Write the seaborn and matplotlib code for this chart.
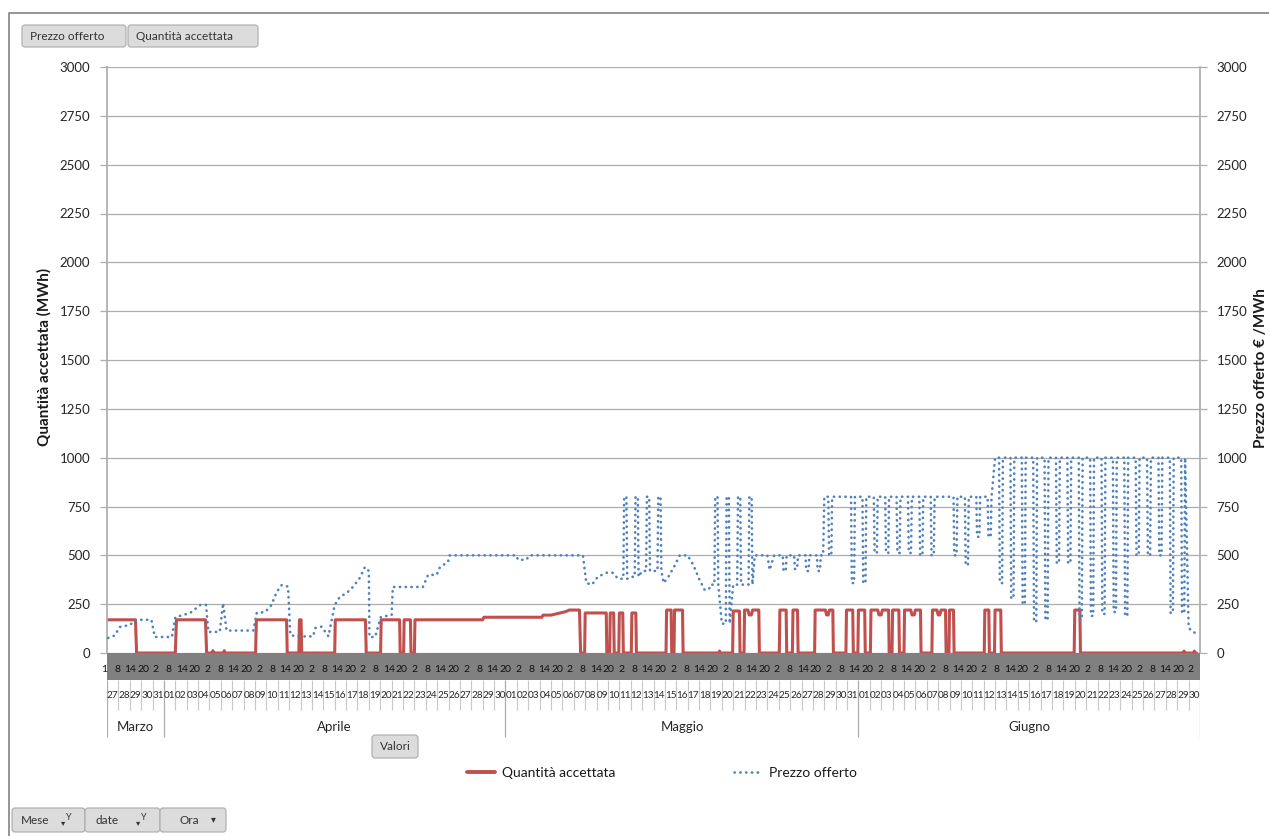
import numpy as np
import pandas as pd
import matplotlib
matplotlib.use("Agg")
import matplotlib.pyplot as plt
import seaborn as sns
from matplotlib import font_manager
from matplotlib.patches import FancyBboxPatch
from matplotlib.lines import Line2D

# ---------------- categories ----------------
months = ["Marzo", "Aprile", "Maggio", "Giugno"]
month_first_day = [27, 1, 1, 1]
month_last_day = [31, 30, 31, 30]
hour_labels = ["1", "8", "14", "20"] + ["2", "8", "14", "20"] * 20 + ["2"]
y_ticks = [0, 250, 500, 750, 1000, 1250, 1500, 1750, 2000, 2250, 2500, 2750, 3000]

# ---------------- Quantità accettata (MWh) : (giorno dal 27/03, valore) ----------------
qty_mar_apr = [(0, 170), (2.5, 170), (2.6, 0), (6.0, 0), (6.1, 170), (8.65, 170), (8.75, 0),
               (9.25, 0), (9.3, 12), (9.35, 0), (10.25, 0), (10.3, 12), (10.35, 0),
               (13.05, 0), (13.12, 170), (15.77, 170), (15.83, 0), (16.85, 0), (16.9, 170),
               (17.05, 170), (17.1, 0), (20.0, 0), (20.05, 170), (22.7, 170), (22.77, 0),
               (24.03, 0), (24.08, 170), (25.7, 170), (25.75, 0), (26.05, 0), (26.1, 170),
               (26.65, 170), (26.7, 0), (27.0, 0), (27.05, 170), (33.0, 170), (33.1, 183)]
qty_mag = [(38.2, 183), (38.3, 194), (39.0, 194), (39.8, 205), (40.3, 212), (40.6, 220),
           (41.5, 220), (41.6, 0), (41.95, 0), (42.0, 205), (43.85, 205), (43.9, 0),
           (44.15, 0), (44.2, 205), (44.5, 205), (44.55, 0), (44.95, 0), (45.0, 205),
           (45.3, 205), (45.35, 0), (46.05, 0), (46.1, 205), (46.45, 205), (46.5, 0),
           (49.1, 0), (49.15, 220), (49.55, 220), (49.6, 0), (49.8, 0), (49.85, 220),
           (50.55, 220), (50.6, 0), (53.75, 0), (53.8, 10), (53.85, 0), (54.95, 0),
           (55.0, 215), (55.55, 215), (55.6, 0), (55.95, 0), (56.0, 220), (56.3, 220),
           (56.4, 195), (56.6, 195), (56.7, 220), (57.25, 220), (57.3, 0), (59.05, 0),
           (59.1, 220), (59.65, 220), (59.7, 0), (60.2, 0), (60.25, 220), (60.65, 220),
           (60.7, 0), (62.15, 0), (62.2, 220), (63.1, 220), (63.2, 195), (63.35, 195),
           (63.45, 220), (63.75, 220), (63.8, 0), (64.9, 0), (64.95, 220), (65.5, 220),
           (65.55, 0)]
qty_giu = [(65.95, 0), (66.0, 220), (66.55, 220), (66.6, 0), (67.05, 0), (67.1, 220),
           (67.7, 220), (67.8, 195), (68.0, 195), (68.1, 220), (68.65, 220), (68.7, 0),
           (68.95, 0), (69.0, 220), (69.55, 220), (69.6, 0), (70.0, 0), (70.05, 220),
           (70.6, 220), (70.7, 195), (70.9, 195), (71.0, 220), (71.45, 220), (71.5, 0),
           (72.45, 0), (72.5, 220), (72.9, 220), (73.0, 195), (73.15, 195), (73.25, 220),
           (73.65, 220), (73.7, 0), (73.95, 0), (74.0, 220), (74.35, 220), (74.4, 0),
           (77.05, 0), (77.1, 220), (77.45, 220), (77.5, 0), (77.95, 0), (78.0, 220),
           (78.5, 220), (78.55, 0), (84.95, 0), (85.0, 220), (85.45, 220), (85.5, 0),
           (94.55, 0), (94.6, 10), (94.65, 0), (95.45, 0), (95.5, 10), (95.55, 0), (95.7, 0)]

# ---------------- Prezzo offerto (€/MWh) ----------------
price_mar_apr = [(0.1, 77), (0.7, 90), (1.1, 133), (2.0, 143), (2.55, 170), (3.9, 170),
                 (4.2, 82), (5.7, 82), (6.0, 183), (7.3, 205), (8.2, 246), (8.7, 246),
                 (8.9, 108), (9.9, 108), (10.2, 255), (10.5, 115), (12.85, 115), (13.15, 205),
                 (13.9, 210), (14.45, 246), (14.9, 312), (15.35, 348), (15.9, 340), (16.1, 92),
                 (16.65, 85), (18.1, 85), (18.3, 128), (18.85, 135), (19.45, 85), (20.0, 246),
                 (20.45, 287), (21.05, 307), (21.6, 338), (22.2, 384), (22.65, 440), (23.0, 420),
                 (23.05, 82), (23.55, 82), (24.05, 184), (25.0, 195), (25.1, 338), (27.75, 338),
                 (28.2, 400), (28.95, 400), (29.25, 440), (29.95, 466), (30.1, 500), (35.95, 500),
                 (36.1, 477), (36.8, 477), (37.15, 500), (41.8, 500)]
price_mag_a = [(42.1, 358), (42.6, 350), (43.1, 390), (43.9, 411), (44.4, 411), (44.9, 380)]
osc1_days, osc1_base, osc1_peak = [45, 46, 47, 48], [380, 390, 420, 420], [800, 800, 800, 800]
price_mag_b = [(48.9, 358), (49.3, 390), (49.8, 440), (50.3, 500), (51.0, 500), (51.5, 450),
               (52.0, 380), (52.5, 322), (52.9, 330)]
osc2_days, osc2_base, osc2_peak = [53, 54, 55, 56], [350, 150, 350, 350], [800, 800, 800, 800]
price_mag_c = [(56.9, 500), (58.0, 500), (58.2, 425), (58.6, 500)]
osc3_days, osc3_base, osc3_peak = [59, 60, 61, 62], [500, 500, 500, 500], [420, 430, 420, 420]
price_mag_d = [(62.9, 500)]
osc4_days = list(range(63, 78))
osc4_base = [800] * 15
osc4_peak = [500, 800, 358, 358, 512, 512, 512, 512, 500, 500, 800, 500, 450, 595, 595]
osc5_days = list(range(78, 95))
osc5_base = [1000] * 17
osc5_peak = [358, 280, 250, 160, 170, 460, 460, 170, 190, 200, 210, 190, 500, 500, 500, 205, 205]
price_tail = [(95.0, 130), (95.3, 110), (95.7, 100)]


def osc_path(days, base, peak):
    pts = []
    for d, b, p in zip(days, base, peak):
        pts += [(d, b), (d + 0.35, b), (d + 0.42, p), (d + 0.62, p), (d + 0.69, b)]
    return pts


qty_pts = qty_mar_apr + qty_mag + qty_giu
price_pts = (price_mar_apr + price_mag_a + osc_path(osc1_days, osc1_base, osc1_peak)
             + price_mag_b + osc_path(osc2_days, osc2_base, osc2_peak)
             + price_mag_c + osc_path(osc3_days, osc3_base, osc3_peak)
             + price_mag_d + osc_path(osc4_days, osc4_base, osc4_peak)
             + osc_path(osc5_days, osc5_base, osc5_peak) + price_tail)
df_q = pd.DataFrame(qty_pts, columns=["giorno", "valore"])
df_p = pd.DataFrame(price_pts, columns=["giorno", "valore"])

# ---------------- figure ----------------
sns.set_theme(style="white")
plt.rcParams["font.family"] = ["Lato", "DejaVu Sans"]

installed = {f.name for f in font_manager.fontManager.ttflist}
if "Liberation Sans Narrow" in installed:
    NARROW = ["Liberation Sans Narrow", "DejaVu Sans"]
    day_fs, hour_fs = 8.8, 8.5
else:
    NARROW = ["Lato", "DejaVu Sans"]
    day_fs, hour_fs = 7.2, 7.5

W, H = 1269, 836
fig = plt.figure(figsize=(W / 100, H / 100), dpi=100)
fig.patch.set_facecolor("white")


def fx(px):
    return px / W


def fy(py):
    return 1 - py / H


X0, X1, Y0, Y1 = 107, 1200, 653, 67
n_days = sum(l - f + 1 for f, l in zip(month_first_day, month_last_day))

RED = "#C0504D"
BLUE = "#4F81BD"
GRID = "#ADADAD"
TXT = "#262626"

ax = fig.add_axes([fx(X0), fy(Y0), fx(X1) - fx(X0), fy(Y1) - fy(Y0)])
sns.lineplot(data=df_q, x="giorno", y="valore", sort=False, estimator=None,
             color=RED, linewidth=2.2, ax=ax)
ax.set_xlim(0, n_days)
ax.set_ylim(0, 3000)
ax.set_yticks(y_ticks)
ax.set_yticklabels([str(v) for v in y_ticks])
ax.set_xticks([])
ax.set_xlabel("")
ax.set_ylabel("")
ax.yaxis.grid(True, color=GRID, lw=0.9)
ax.set_axisbelow(True)
ax.tick_params(axis="y", length=5, width=0.9, color=GRID, labelsize=9.5,
               labelcolor=TXT, pad=7, left=True)
for s in ["top", "bottom", "right"]:
    ax.spines[s].set_visible(False)
ax.spines["left"].set_color(GRID)
ax.patch.set_alpha(0)

ax2 = ax.twinx()
sns.lineplot(data=df_p, x="giorno", y="valore", sort=False, estimator=None,
             color=BLUE, linewidth=1.9, ax=ax2)
pl = ax2.get_lines()[-1]
pl.set_linestyle((0, (0.1, 2.1)))
pl.set_dash_capstyle("round")
ax2.set_xlim(0, n_days)
ax2.set_ylim(0, 3000)
ax2.set_yticks(y_ticks)
ax2.set_yticklabels([str(v) for v in y_ticks])
ax2.set_xticks([])
ax2.set_xlabel("")
ax2.set_ylabel("")
ax2.tick_params(axis="y", length=5, width=0.9, color=GRID, labelsize=9.5,
                labelcolor=TXT, pad=7, right=True)
for s in ["top", "bottom", "left"]:
    ax2.spines[s].set_visible(False)
ax2.spines["right"].set_color(GRID)

# ---------------- category axis (hours / days / months) ----------------
axc = fig.add_axes([fx(X0), fy(740), fx(X1) - fx(X0), fy(653) - fy(740)])
axc.set_xlim(0, n_days)
axc.set_ylim(87, 0)
axc.axis("off")
axc.axhspan(0, 27, color="#808080", lw=0)

day_labels = []
month_bounds = [0]
for f, l in zip(month_first_day, month_last_day):
    day_labels += [f"{d:02d}" for d in range(f, l + 1)]
    month_bounds.append(month_bounds[-1] + (l - f + 1))

inner = [i for i in range(1, n_days) if i not in month_bounds]
axc.vlines(inner, 27, 57, color="#C8C8C8", lw=0.8)
axc.vlines(month_bounds, 27, 84, color=GRID, lw=0.9)

hour_pos = np.linspace(-0.25, 95.2, len(hour_labels))
for x, lab in zip(hour_pos, hour_labels):
    axc.text(x, 16, lab, ha="center", va="center", fontsize=hour_fs, color="#111111",
             family=NARROW)
for i, lab in enumerate(day_labels):
    axc.text(i + 0.5, 43, lab, ha="center", va="center", fontsize=day_fs, color=TXT,
             family=NARROW)
for m, a, b in zip(months, month_bounds[:-1], month_bounds[1:]):
    axc.text((a + b) / 2, 74, m, ha="center", va="center", fontsize=9.5, color=TXT)

# ---------------- overlay: frame, buttons, labels, legend ----------------
ov = fig.add_axes([0, 0, 1, 1])
ov.set_xlim(0, W)
ov.set_ylim(H, 0)
ov.axis("off")

ov.plot([8.5, 8.5, W], [H, 12.5, 12.5], color="#8C8C8C", lw=1.3)


def button(x0, y0, x1, y1, text, tx=None, fs=8.5):
    p = FancyBboxPatch((x0, y0), x1 - x0, y1 - y0,
                       boxstyle="round,pad=0,rounding_size=3",
                       fc="#DCDCDC", ec="#AAAAAA", lw=0.8)
    ov.add_patch(p)
    if tx is None:
        ov.text((x0 + x1) / 2, (y0 + y1) / 2, text, ha="center", va="center",
                fontsize=fs, color="#333333")
    else:
        ov.text(tx, (y0 + y1) / 2, text, ha="left", va="center",
                fontsize=fs, color="#333333")


button(22, 25, 126, 47, "Prezzo offerto", tx=30)
button(128, 25, 258, 47, "Quantità accettata", tx=136)
button(372, 735, 418, 758, "Valori")
button(12, 808, 85, 832, "Mese", tx=21)
button(85, 808, 160, 832, "date", tx=96)
button(160, 808, 226, 832, "Ora", tx=180)
for x in [63, 138]:
    ov.text(x, 823, "▾", ha="center", va="center", fontsize=6, color="#333333")
    ov.text(x + 6, 818, "Y", ha="center", va="center", fontsize=6.5, color="#333333")
ov.text(213, 820, "▾", ha="center", va="center", fontsize=7, color="#333333")

ov.text(44, 357, "Quantità accettata (MWh)", rotation=90, ha="center", va="center",
        fontsize=11, fontweight="bold", color="#1A1A1A")
ov.text(1261, 368, "Prezzo offerto € /MWh", rotation=90, ha="center", va="center",
        fontsize=11, fontweight="bold", color="#1A1A1A")

h_red = Line2D([], [], color=RED, lw=2.8)
h_blue = Line2D([], [], color=BLUE, lw=1.9, ls=(0, (0.1, 2.1)), dash_capstyle="round")
ov.legend([h_red, h_blue], ["Quantità accettata", "Prezzo offerto"], loc="center",
          bbox_to_anchor=(662, 773), bbox_transform=ov.transData, ncol=2,
          frameon=False, fontsize=10, handlelength=2.0, handletextpad=0.55,
          columnspacing=8.5, labelcolor="#1A1A1A")

fig.savefig("out.png", dpi=100, facecolor="white")
